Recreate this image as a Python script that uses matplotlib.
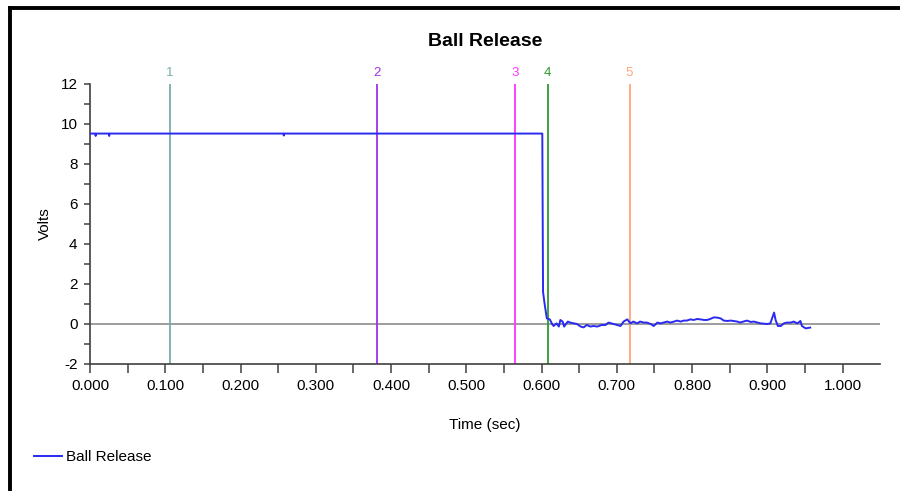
import matplotlib.pyplot as plt
from matplotlib.lines import Line2D

plt.rcParams['font.family'] = ['Liberation Sans Narrow', 'Liberation Sans', 'DejaVu Sans']
plt.rcParams['axes.unicode_minus'] = False

# signal (time in sec, volts)
time_s = [0.000, 0.007, 0.0075, 0.008, 0.025, 0.0255, 0.026, 0.257, 0.2575, 0.258, 0.601,
          0.602, 0.604, 0.606, 0.607, 0.611, 0.614, 0.616, 0.620, 0.623, 0.625,
          0.628, 0.630, 0.633, 0.635, 0.638, 0.643, 0.647, 0.652, 0.656, 0.660,
          0.665, 0.669, 0.674, 0.680, 0.685, 0.689, 0.705, 0.709, 0.714, 0.718,
          0.722, 0.727, 0.731, 0.736, 0.740, 0.745, 0.749, 0.754, 0.758, 0.762,
          0.767, 0.771, 0.776, 0.780, 0.785, 0.789, 0.793, 0.798, 0.802, 0.807,
          0.811, 0.816, 0.820, 0.824, 0.829, 0.833, 0.838, 0.842, 0.847, 0.851,
          0.855, 0.860, 0.864, 0.869, 0.873, 0.878, 0.882, 0.887, 0.891, 0.900,
          0.904, 0.909, 0.911, 0.914, 0.918, 0.922, 0.926, 0.931, 0.935, 0.940,
          0.944, 0.946, 0.951, 0.957]
volts = [9.52, 9.52, 9.40, 9.52, 9.52, 9.40, 9.52, 9.52, 9.42, 9.52, 9.52,
         1.60, 1.03, 0.53, 0.28, 0.23, 0.00, -0.10, 0.03, -0.13, 0.20,
         0.12, -0.13, 0.03, 0.12, 0.07, 0.03, 0.00, -0.13, -0.17, -0.05,
         -0.13, -0.10, -0.13, -0.05, -0.05, 0.07, -0.10, 0.12, 0.23, 0.03,
         0.12, 0.03, 0.12, 0.07, 0.07, 0.00, -0.10, 0.07, 0.03, 0.07,
         0.12, 0.07, 0.12, 0.17, 0.12, 0.17, 0.17, 0.23, 0.20, 0.25,
         0.23, 0.20, 0.20, 0.25, 0.33, 0.32, 0.28, 0.17, 0.15, 0.17,
         0.15, 0.12, 0.07, 0.13, 0.17, 0.10, 0.12, 0.07, 0.03, 0.00,
         0.03, 0.57, 0.20, -0.10, -0.10, 0.03, 0.07, 0.07, 0.12, 0.03,
         0.15, -0.10, -0.22, -0.18]

# event markers
marker_labels = ['1', '2', '3', '4', '5']
marker_times = [0.106, 0.382, 0.565, 0.608, 0.717]
marker_colors = ['#7aabab', '#a030e8', '#ff33ff', '#2f9a2f', '#ffa47e']

fig = plt.figure(figsize=(9, 4.91), dpi=100)
ax = fig.add_axes([0.1, 0.2587, 0.878, 0.5703])

ax.axhline(0, color='#8c8c8c', lw=1.2, zorder=1)
for lab, t, c in zip(marker_labels, marker_times, marker_colors):
    ax.axvline(t, color=c, lw=1.3, zorder=2)
    ax.text(t, 12.55, lab, color=c, fontsize=9.5, ha='center', va='center', clip_on=False)

line, = ax.plot(time_s, volts, color='#2a2af0', lw=1.4, zorder=3, label='Ball Release')

ax.set_xlim(0, 1.05)
ax.set_ylim(-2, 12)
ax.set_xticks([i / 10 for i in range(11)])
ax.set_xticklabels(['%.3f' % (i / 10) for i in range(11)])
ax.set_xticks([0.05 + i / 10 for i in range(10)], minor=True)
ax.set_yticks(range(-2, 13, 2))
ax.set_yticks(range(-1, 12, 2), minor=True)

for s in ['top', 'right']:
    ax.spines[s].set_visible(False)
for s in ['left', 'bottom']:
    ax.spines[s].set_color('#404040')
    ax.spines[s].set_linewidth(1.2)

ax.tick_params(axis='x', which='both', length=6.5, width=1.1, color='#404040', labelsize=11, pad=4)
ax.tick_params(axis='y', which='both', length=4, width=1.1, color='#404040', labelsize=11, pad=5)

ax.set_title('Ball Release', fontsize=14, fontweight='bold', pad=27)
ax.set_xlabel('Time (sec)', fontsize=11, labelpad=18)
ax.set_ylabel('Volts', fontsize=11, labelpad=6)

fig.legend(handles=[line], loc='center left', bbox_to_anchor=(0.0378, 0.0692),
           frameon=False, fontsize=11, handlelength=1.8, handletextpad=0.3,
           borderpad=0, borderaxespad=0)

# black frame on top and left edges
fig.add_artist(Line2D([10 / 900, 10 / 900], [0, 1 - 8 / 491], color='black', lw=2.8,
                      transform=fig.transFigure))
fig.add_artist(Line2D([10 / 900, 1], [1 - 8 / 491, 1 - 8 / 491], color='black', lw=2.8,
                      transform=fig.transFigure))

fig.savefig('out.png', dpi=100)
